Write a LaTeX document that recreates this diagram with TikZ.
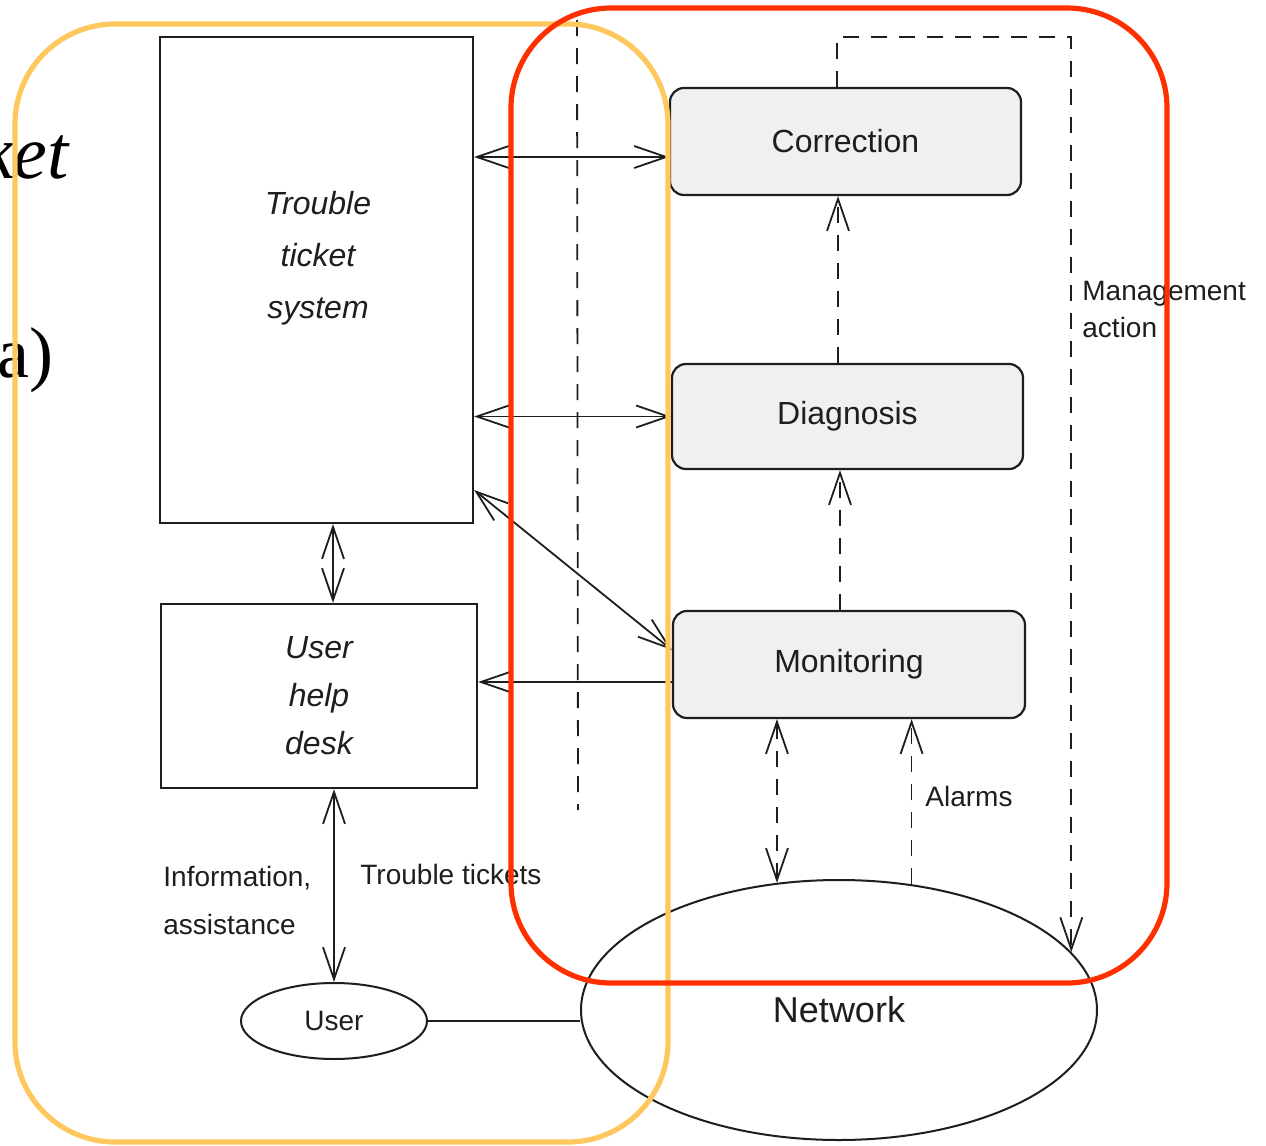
\documentclass[tikz,border=0pt]{standalone}
\usepackage{fontspec}
\setmainfont{Liberation Sans}
\newfontfamily\serifface{Liberation Serif}
\usetikzlibrary{arrows.meta,shapes.geometric}
\definecolor{frameorange}{RGB}{255,200,95}
\definecolor{framered}{RGB}{255,48,0}
\definecolor{boxfill}{RGB}{240,240,240}
\definecolor{ink}{RGB}{30,30,30}
\tikzset{
  >={Straight Barb[length=16pt,width=11pt]},
  plainbox/.style={draw=ink, line width=1.1pt, inner sep=0pt},
  stagebox/.style={draw=ink, fill=boxfill, rounded corners=7pt, line width=1.1pt,
    inner sep=0pt, text=ink, font=\fontsize{16}{19}\selectfont},
  blob/.style={ellipse, draw=ink, line width=1pt, inner sep=0pt, text=ink},
  link/.style={draw=ink, line width=0.9pt},
  dlink/.style={link, dash pattern=on 8pt off 6pt},
  lbl/.style={font=\fontsize{14}{17}\selectfont, text=ink, inner sep=0pt, anchor=west},
  frame/.style={rounded corners=50pt, line width=2.6pt},
}
\begin{document}
\begin{tikzpicture}[x=0.5pt,y=-0.5pt]
\useasboundingbox (0,0) rectangle (1266,1146);
\fill[white] (0,0) rectangle (1266,1146);
\clip (0,0) rectangle (1266,1146);

% fragments of the surrounding page text
\node[font=\serifface\itshape\fontsize{38}{40}\selectfont, anchor=base east, inner sep=0pt] (ketfrag) at (69,178) {ket};
\node[font=\serifface\fontsize{36}{40}\selectfont, anchor=base east, inner sep=0pt] (afrag) at (54,377) {(a)};

% guide coordinates for connector positions
\coordinate (gy157) at (0,157);
\coordinate (gy490) at (0,490);
\coordinate (gy650) at (0,650);
\coordinate (gy682) at (0,682);
\coordinate (gy37) at (0,37);
\coordinate (gx333) at (333,0);
\coordinate (gx837) at (837,0);
\coordinate (gx838) at (838,0);
\coordinate (gx840) at (840,0);
\coordinate (sepTop) at (577,20);
\coordinate (sepBot) at (578,810);

% left-hand boxes
\node[plainbox, minimum width=156.5pt, minimum height=243pt] (tts) at (316.5,280) {};
\node[text=ink, font=\itshape\fontsize{16}{26}\selectfont, align=center] (ttstext) at (318,258) {Trouble\\ticket\\system};
\node[plainbox, minimum width=158pt, minimum height=92pt, text=ink,
  font=\itshape\fontsize{16}{24}\selectfont, align=center] (uhd) at (319,696) {User\\help\\desk};

% management stages
\node[stagebox, minimum width=175.5pt, minimum height=53.5pt] (corr) at (845.5,141.5) {Correction};
\node[stagebox, minimum width=175.5pt, minimum height=52.5pt] (diag) at (847.5,416.5) {Diagnosis};
\node[stagebox, minimum width=176pt, minimum height=53.5pt] (mon) at (849,664.5) {Monitoring};

% user and network
\node[blob, minimum width=258pt, minimum height=130pt, font=\fontsize{18}{21}\selectfont] (net) at (839,1010) {Network};
\node[blob, minimum width=93pt, minimum height=38pt, font=\fontsize{14}{17}\selectfont] (user) at (334,1021) {User};

% solid connectors
\draw[link,<->] (tts.east |- gy157) -- (corr.west |- gy157);
\draw[link,<->] (tts.east |- diag.west) -- (diag.west);
\draw[link,<->] (tts.east |- gy490) -- (mon.west |- gy650);
\draw[link,->] (mon.west |- gy682) -- (uhd.east |- gy682);
\draw[link,<->] (tts.south -| gx333) -- (uhd.north -| gx333);
\draw[link,<->] (uhd.south -| user.north) -- (user.north);
\draw[link] (user.east) -- (user.east -| net.west);

% dashed connectors
\draw[dlink] (sepTop) -- (sepBot);
\draw[dlink,->] (mon.north -| gx840) -- (diag.south -| gx840);
\draw[dlink,->] (diag.north -| gx838) -- (corr.south -| gx838);
\draw[dlink,<->] (mon.south -| net.116.6) -- (net.116.6);
\draw[dlink,->] (net.60.4) -- (mon.south -| net.60.4);
\draw[dlink,->] (corr.north -| gx837) |- (net.14 |- gy37) -- (net.14);

% labels
\node[lbl, align=left, font=\fontsize{14}{18.5}\selectfont] (mgmt) at (1082,310) {Management\\action};
\node[lbl] (alarms) at (925,796) {Alarms};
\node[lbl, align=left, font=\fontsize{14}{24}\selectfont] (info) at (163,900) {Information,\\assistance};
\node[lbl] (tickets) at (360,874) {Trouble tickets};

% highlight frames
\draw[frame, frameorange] (15,24) rectangle (668,1142);
\draw[frame, framered] (511,8) rectangle (1167,983);
\end{tikzpicture}
\end{document}
